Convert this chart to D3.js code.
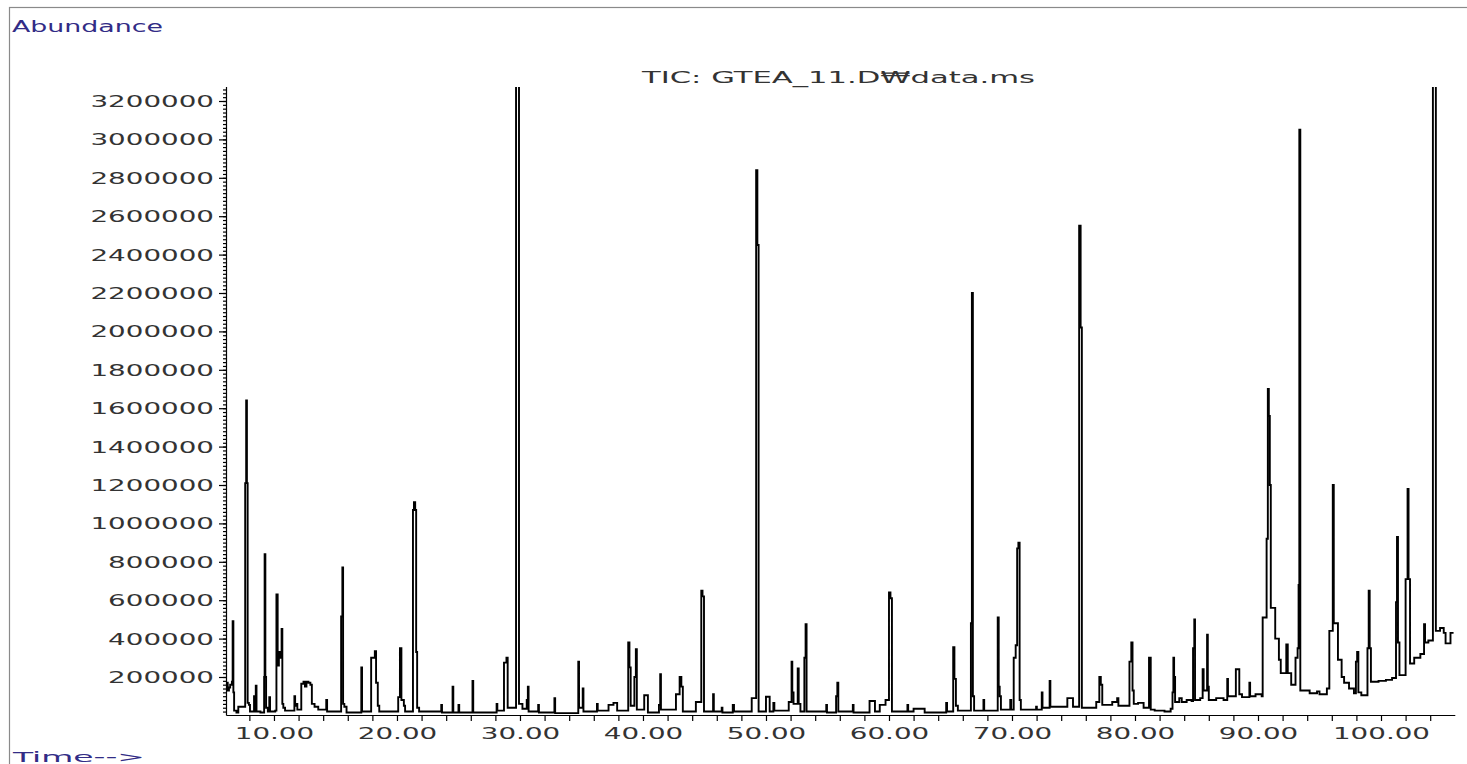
<!DOCTYPE html>
<html><head><meta charset="utf-8">
<script src="https://cdn.jsdelivr.net/npm/d3@7"></script>
<style>
html,body{margin:0;padding:0;background:#fff;overflow:hidden}
svg{display:block}
</style></head><body>
<svg id="chart" width="1467" height="764"></svg>
<script>
// ---------- data ----------
const chartTitle = "TIC: GTEA_11.D\u20A9data.ms";
const yAxisTitle = "Abundance";
const xAxisTitle = "Time-->";

const xLabelTicks = [10, 20, 30, 40, 50, 60, 70, 80, 90, 100];
const xAllTicks = [8,10,12,14,16,18,20,22,24,26,28,30,32,34,36,38,40,42,44,46,48,50,52,54,56,58,60,62,64,66,68,70,72,74,76,78,80,82,84,86,88,90,92,94,96,98,100,102,104];
const yLabelTicks = [200000,400000,600000,800000,1000000,1200000,1400000,1600000,1800000,2000000,2200000,2400000,2600000,2800000,3000000,3200000];

// TIC trace: [retention time (min), abundance] — value holds until next point
const ticEarly = [
 [6.10,150000],[6.16,170000],[6.24,130000],[6.34,145000],[6.44,160000],[6.58,175000],[6.64,490000],[6.70,120000],
 [6.76,25000],[6.95,15000],[7.10,45000],[7.50,45000],[7.66,1210000],[7.74,1640000],[7.80,1210000],[7.86,65000],
 [7.96,55000],[8.05,20000],[8.38,100000],[8.44,20000],[8.52,155000],[8.58,20000],[8.90,15000],[9.20,200000],
 [9.24,840000],[9.30,200000],[9.36,40000],[9.50,20000],[9.62,95000],[9.68,20000],[10.10,25000],[10.20,630000],
 [10.30,260000],[10.40,330000],[10.52,300000],[10.62,450000],[10.68,60000],[10.76,40000],[10.90,25000],
 [11.66,100000],[11.72,50000],[11.85,60000],[11.90,30000],[12.22,165000],[12.40,175000],[12.52,150000],
 [12.64,175000],[12.80,170000],[12.96,160000],[13.08,60000],[13.30,45000],[13.60,30000],[14.25,80000],
 [14.32,20000],[15.46,515000],[15.56,770000],[15.62,60000],[15.72,45000],[15.90,15000],[17.10,250000],
 [17.16,20000],[17.90,300000],[18.20,335000],[18.30,170000],[18.44,50000],[18.56,20000],[20.10,95000],
 [20.24,350000],[20.36,80000],[20.56,50000],[20.66,20000],[21.30,1070000],[21.38,1110000],[21.48,1070000],
 [21.56,330000],[21.64,40000],[21.80,20000],[23.60,55000],[23.66,15000],[24.52,150000],[24.58,15000],
 [25.00,55000],[25.06,15000],[26.14,180000],[26.20,15000],[28.10,60000],[28.16,25000],[28.70,275000],
 [28.90,300000],[29.00,40000],[29.68,3350000],[29.92,60000],[30.20,35000]
];
const ticMiddle = [
 [30.55,80000],[30.64,150000],[30.70,20000],[31.48,55000],[31.54,15000],[32.80,90000],[32.86,12000],
 [34.74,280000],[34.80,40000],[35.10,140000],[35.16,20000],[36.26,60000],[36.32,25000],[37.20,55000],
 [37.60,65000],[37.90,25000],[38.80,380000],[38.90,250000],[39.00,50000],[39.30,200000],[39.42,345000],
 [39.50,30000],[40.10,105000],[40.40,15000],[41.30,55000],[41.40,215000],[41.46,30000],[42.68,110000],
 [42.98,200000],[43.12,150000],[43.24,20000],[44.30,70000],[44.74,650000],[44.84,620000],[44.96,20000],
 [45.70,110000],[45.76,20000],[46.40,40000],[46.46,15000],[47.30,55000],[47.40,20000],[48.84,90000],
 [49.20,2840000],[49.30,2450000],[49.40,20000],[50.00,97000],[50.30,20000],[50.60,65000],[50.68,25000],
 [51.85,70000],[52.08,280000],[52.14,120000],[52.24,60000],[52.58,245000],[52.66,60000],[52.80,20000],
 [53.12,300000],[53.22,475000],[53.30,20000],[54.90,55000],[54.96,15000],[55.70,100000],[55.80,170000],
 [55.88,20000],[57.06,55000],[57.12,15000],[58.42,75000],[58.86,20000],[59.25,55000],[59.72,80000],
 [60.00,640000],[60.12,610000],[60.24,20000],[61.50,55000],[61.56,20000],[62.00,35000],[62.90,15000],
 [64.65,65000],[64.72,20000],[65.22,355000],[65.32,190000],[65.44,50000],[65.60,25000],[66.66,480000],
 [66.74,2200000],[66.82,100000],[66.92,25000],[67.68,80000],[67.74,25000],[68.84,510000],[68.92,150000],
 [69.00,100000],[69.10,30000],[69.86,80000],[69.94,30000],[70.14,300000],[70.30,365000],[70.42,870000],
 [70.52,900000],[70.62,80000],[70.72,30000],[71.96,45000],[72.02,30000],[72.42,120000],[72.48,40000],
 [73.06,180000],[73.12,45000],[74.50,90000],[74.96,45000],[75.46,2550000],[75.58,2020000],[75.68,40000],
 [76.85,70000],[77.10,200000],[77.22,160000],[77.34,55000],[78.15,70000],[78.55,90000],[78.65,50000],
 [79.55,280000],[79.70,380000],[79.80,130000],[79.90,60000],[80.25,65000],[80.70,40000]
];
const ticLate = [
 [81.14,300000],[81.28,30000],[81.60,25000],[82.40,20000],[82.90,35000],[83.05,120000],[83.12,300000],
 [83.18,200000],[83.26,70000],[83.60,90000],[83.80,70000],[84.20,80000],[84.60,75000],[84.72,350000],
 [84.82,500000],[84.88,80000],[85.30,90000],[85.50,240000],[85.58,130000],[85.86,420000],[85.92,150000],
 [86.00,80000],[86.60,90000],[87.20,80000],[87.50,190000],[87.56,100000],[88.20,240000],[88.48,110000],
 [88.70,95000],[89.30,170000],[89.36,100000],[89.80,110000],[90.30,100000],[90.38,510000],[90.70,920000],
 [90.80,1700000],[90.88,1560000],[90.96,1200000],[91.04,560000],[91.40,400000],[91.70,290000],
 [91.85,220000],[92.30,370000],[92.42,220000],[92.70,160000],[93.05,300000],[93.22,350000],[93.30,680000],
 [93.36,3050000],[93.44,130000],[94.20,115000],[94.80,125000],[95.00,110000],[95.60,140000],[95.80,440000],
 [96.08,1200000],[96.16,480000],[96.50,290000],[96.80,200000],[97.00,170000],[97.40,140000],[97.80,115000],
 [97.96,280000],[98.06,330000],[98.16,120000],[98.40,105000],[98.90,350000],[99.00,650000],[99.08,350000],
 [99.18,175000],[99.80,180000],[100.40,185000],[100.90,195000],[101.22,590000],[101.30,930000],
 [101.38,380000],[101.50,210000],[102.00,710000],[102.16,1180000],[102.24,710000],[102.36,270000],
 [102.70,300000],[103.20,320000],[103.50,475000],[103.58,380000],[103.85,390000],[104.22,3350000],
 [104.46,440000],[104.80,455000],[105.10,430000],[105.25,375000],[105.65,430000],[105.90,430000]
];

// ---------- drawing ----------
const svg = d3.select("#chart");
const W = 1467, H = 764;
const STRETCH = 1.85;
const FONT = "'DejaVu Sans', sans-serif";

// frame
svg.append("rect").attr("x", 9.5).attr("y", 7.5).attr("width", W + 20).attr("height", H + 20)
  .attr("fill", "none").attr("stroke", "#8a8a8a").attr("stroke-width", 1.2);

const x = d3.scaleLinear().domain([6.1, 106]).range([226, 1454.8]);
const y = d3.scaleLinear().domain([0, 3200000]).range([715.4, 101]);
const yTop = 87;

// clip
svg.append("defs").append("clipPath").attr("id", "plotclip")
  .append("rect").attr("x", 226).attr("y", yTop).attr("width", 1240).attr("height", 640);

const tic = ticEarly.concat(ticMiddle, ticLate);
const line = d3.line().x(d => x(d[0])).y(d => y(d[1])).curve(d3.curveStepAfter);
svg.append("path").datum(tic).attr("clip-path", "url(#plotclip)")
  .attr("d", line).attr("fill", "none").attr("stroke", "#000")
  .attr("stroke-width", 1.9).attr("stroke-linejoin", "miter");

// y axis line up to the top of the plot
svg.append("line").attr("x1", 226.5).attr("x2", 226.5).attr("y1", y(0)).attr("y2", yTop)
  .attr("stroke", "#000").attr("stroke-width", 1.2);

// y axis: minor ticks
const yMinor = d3.range(20000, y.invert(yTop), 20000);
svg.append("g").attr("transform", "translate(226,0)")
  .call(d3.axisLeft(y).tickValues(yMinor).tickSize(3).tickSizeOuter(0).tickFormat(""))
  .call(g => g.select(".domain").remove())
  .call(g => g.selectAll("line").attr("stroke", "#000").attr("stroke-width", 1.2));

// y axis: labelled ticks
const yAx = svg.append("g").attr("transform", "translate(226,0)")
  .call(d3.axisLeft(y).tickValues(yLabelTicks).tickSize(7).tickPadding(5).tickSizeOuter(0).tickFormat(d3.format("d")));
yAx.select(".domain").remove();
yAx.selectAll("line").attr("stroke", "#000").attr("stroke-width", 1.2);
yAx.selectAll("text")
  .attr("x", -12 / STRETCH).attr("dy", "0.36em")
  .attr("transform", `scale(${STRETCH},1)`)
  .attr("fill", "#333").style("font-family", FONT).style("font-size", "15px");

// x axis
const xAx = svg.append("g").attr("transform", "translate(0,715)")
  .call(d3.axisBottom(x).tickValues(xAllTicks).tickSize(6).tickSizeOuter(0)
    .tickFormat(d => xLabelTicks.includes(d) ? d.toFixed(2) : ""));
xAx.selectAll("path,line").attr("stroke", "#000").attr("stroke-width", 1.2);
xAx.selectAll("text")
  .attr("x", 0).attr("y", 24).attr("dy", 0)
  .attr("transform", `scale(${STRETCH},1)`)
  .attr("fill", "#333").style("font-family", FONT).style("font-size", "15px");

// titles
svg.append("text").attr("x", 12).attr("y", 32).text(yAxisTitle)
  .attr("textLength", 151).attr("lengthAdjust", "spacingAndGlyphs")
  .attr("fill", "#322c86").style("font-family", FONT).style("font-size", "15px");

svg.append("text").attr("x", 642).attr("y", 83).text(chartTitle)
  .attr("textLength", 393).attr("lengthAdjust", "spacingAndGlyphs")
  .attr("fill", "#333").style("font-family", FONT).style("font-size", "15px");

svg.append("text").attr("x", 13).attr("y", 762).text(xAxisTitle)
  .attr("textLength", 132).attr("lengthAdjust", "spacingAndGlyphs")
  .attr("fill", "#322c86").style("font-family", FONT).style("font-size", "14px");
</script>
</body></html>
